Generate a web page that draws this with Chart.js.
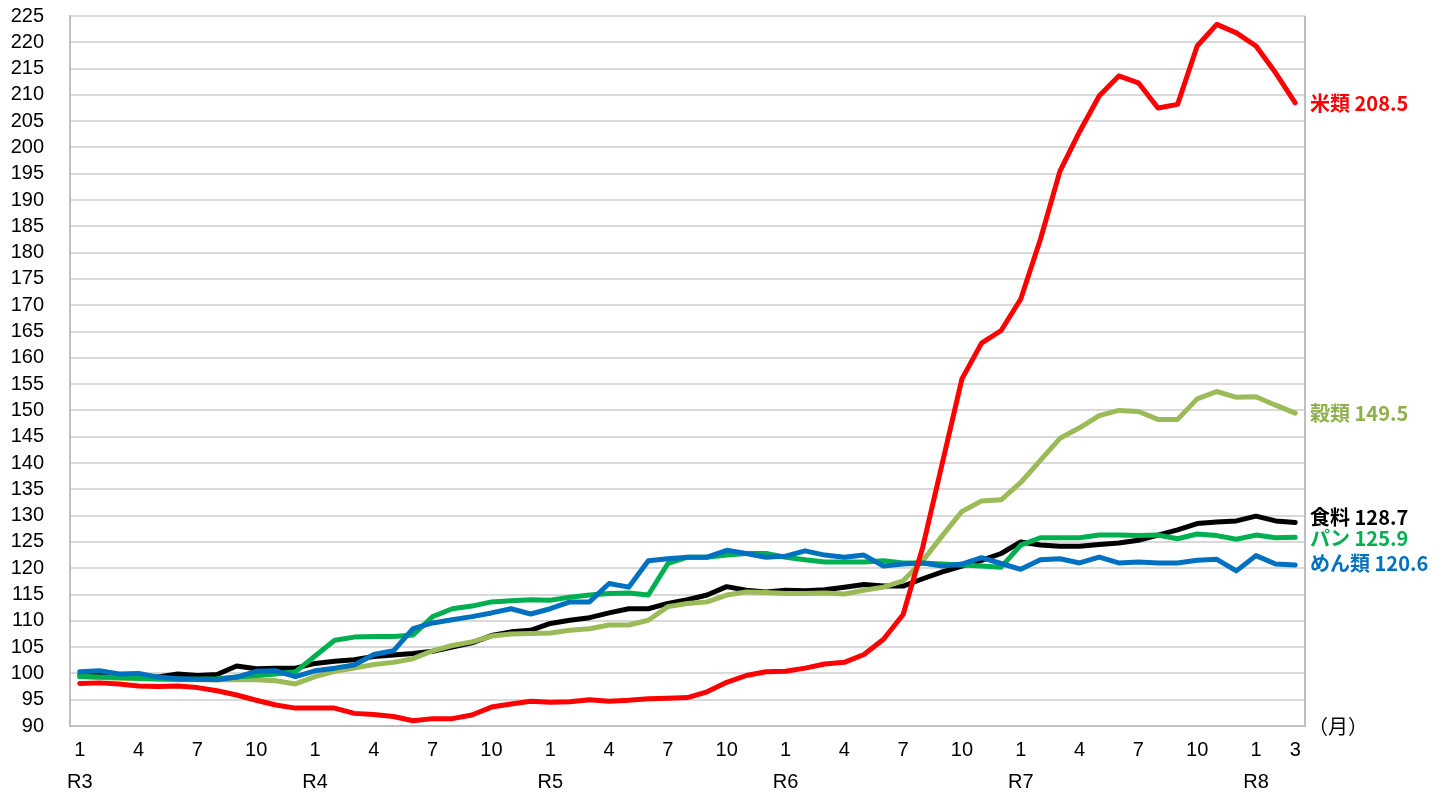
<!DOCTYPE html>
<html lang="ja">
<head>
<meta charset="utf-8">
<title>食料・穀類の消費者物価指数</title>
<script src="https://cdn.jsdelivr.net/npm/chart.js@4.4.1/dist/chart.umd.min.js"></script>
<style>
  html, body { margin: 0; padding: 0; background: #fff; }
  #wrap { position: relative; width: 1456px; height: 794px; }
</style>
</head>
<body>
<div id="wrap"><canvas id="cpi"></canvas></div>
<script>
"use strict";

// categories: era (Reiwa year) and months, Jan R3 .. Mar R8
const eras = ["R3", "R4", "R5", "R6", "R7", "R8"];
const lastEraMonths = 3;
const shownMonths = [1, 4, 7, 10];

// index values (monthly), one row per year
const rice = [
  98.1, 98.2, 98.0, 97.6, 97.5, 97.6, 97.3, 96.7, 95.9, 94.9, 94.0, 93.4,
  93.4, 93.4, 92.4, 92.2, 91.8, 91.0, 91.4, 91.4, 92.1, 93.6, 94.2, 94.7,
  94.5, 94.6, 95.0, 94.7, 94.9, 95.2, 95.3, 95.4, 96.5, 98.3, 99.6, 100.3,
  100.4, 101.0, 101.8, 102.1, 103.6, 106.5, 111.2, 124.0, 140.0, 156.0, 162.8, 165.2,
  171.2, 182.5, 195.5, 203.0, 209.8, 213.6, 212.3, 207.5, 208.2, 219.3, 223.4, 221.8,
  219.3, 214.2, 208.5
];
const cereals = [
  99.4, 99.2, 99.1, 99.0, 98.9, 98.8, 98.8, 98.8, 98.8, 98.8, 98.6, 98.0,
  99.4, 100.4, 101.0, 101.7, 102.1, 102.8, 104.3, 105.3, 106.0, 107.1, 107.5, 107.6,
  107.7, 108.2, 108.5, 109.2, 109.2, 110.1, 112.7, 113.3, 113.6, 114.9, 115.5, 115.4,
  115.2, 115.2, 115.3, 115.1, 115.8, 116.4, 117.6, 121.4, 126.2, 130.8, 132.8, 133.0,
  136.3, 140.5, 144.7, 146.7, 149.0, 150.0, 149.8, 148.3, 148.3, 152.2, 153.6, 152.5,
  152.6, 151.0, 149.5
];
const food = [
  99.7, 99.6, 99.5, 99.5, 99.3, 99.9, 99.6, 99.8, 101.4, 100.9, 101.0, 101.0,
  101.9, 102.3, 102.6, 103.2, 103.5, 103.8, 104.2, 105.0, 105.8, 107.2, 107.9, 108.2,
  109.5, 110.1, 110.6, 111.5, 112.3, 112.3, 113.3, 114.0, 114.9, 116.5, 115.8, 115.5,
  115.8, 115.7, 115.9, 116.4, 116.9, 116.6, 116.6, 118.0, 119.3, 120.4, 121.5, 122.8,
  125.0, 124.4, 124.2, 124.2, 124.5, 124.8, 125.3, 126.3, 127.3, 128.5, 128.8, 129.0,
  129.9, 129.0, 128.7
];
const bread = [
  99.4, 99.3, 99.2, 99.1, 99.0, 98.9, 98.9, 99.0, 99.3, 99.6, 99.9, 100.3,
  103.3, 106.3, 106.9, 107.0, 107.0, 107.3, 110.8, 112.3, 112.8, 113.6, 113.8, 114.0,
  113.9, 114.5, 114.9, 115.2, 115.3, 114.9, 120.9, 122.1, 122.1, 122.5, 122.8, 122.8,
  122.1, 121.6, 121.2, 121.2, 121.2, 121.4, 121.0, 121.0, 120.8, 120.6, 120.4, 120.2,
  124.4, 125.8, 125.8, 125.8, 126.3, 126.3, 126.2, 126.3, 125.6, 126.5, 126.2, 125.5,
  126.3, 125.8, 125.9
];
const noodles = [
  100.3, 100.5, 99.9, 100.0, 99.3, 99.0, 98.9, 98.8, 99.3, 100.4, 100.5, 99.4,
  100.5, 101.0, 101.6, 103.6, 104.3, 108.5, 109.6, 110.2, 110.8, 111.5, 112.3, 111.3,
  112.3, 113.6, 113.6, 117.1, 116.4, 121.4, 121.8, 122.1, 122.1, 123.4, 122.8, 122.1,
  122.3, 123.3, 122.5, 122.1, 122.5, 120.4, 120.8, 121.0, 120.4, 120.8, 122.0, 120.9,
  119.8, 121.6, 121.8, 121.0, 122.1, 121.0, 121.2, 121.0, 121.0, 121.5, 121.7, 119.5,
  122.4, 120.8, 120.6
];

const yMin = 90, yMax = 225, yStep = 5;

// build category labels
const labels = [], eraOf = [], monthOf = [];
eras.forEach((era, k) => {
  const n = k === eras.length - 1 ? lastEraMonths : 12;
  for (let m = 1; m <= n; m++) {
    labels.push(era + "-" + m);
    eraOf.push(era);
    monthOf.push(m);
  }
});

const JP = '"Noto Sans CJK JP", "Noto Sans", sans-serif';
Chart.defaults.font.family = '"Liberation Sans", Arial, sans-serif';
Chart.defaults.font.size = 20;
Chart.defaults.color = "#000";

// right plot border + series labels at the right end of each line
const endLabels = {
  id: "endLabels",
  beforeDatasetsDraw(chart) {
    const { ctx, chartArea } = chart;
    ctx.save();
    ctx.strokeStyle = "#bfbfbf";
    ctx.lineWidth = 2;
    ctx.beginPath();
    ctx.moveTo(chartArea.right, chartArea.top);
    ctx.lineTo(chartArea.right, chartArea.bottom);
    ctx.stroke();
    ctx.restore();
  },
  afterDatasetsDraw(chart) {
    const { ctx, chartArea } = chart;
    ctx.save();
    ctx.textBaseline = "middle";
    ctx.textAlign = "left";
    ctx.font = "bold 20px " + JP;
    chart.data.datasets.forEach((ds, i) => {
      const pts = chart.getDatasetMeta(i).data;
      const p = pts[pts.length - 1];
      const v = ds.data[ds.data.length - 1];
      ctx.fillStyle = ds.textColor || ds.borderColor;
      ctx.fillText(ds.label + " " + v.toFixed(1), chartArea.right + 5, p.y + (ds.textShift || 0));
    });
    ctx.font = "20px " + JP;
    ctx.fillStyle = "#000";
    ctx.fillText("（月）", chartArea.right + 3, chartArea.bottom);
    ctx.restore();
  }
};

function series(label, data, color, extra) {
  return Object.assign({
    label, data,
    borderColor: color,
    backgroundColor: color,
    borderWidth: 5,
    pointRadius: 0,
    tension: 0,
    fill: false,
    borderJoinStyle: "round",
    borderCapStyle: "round",
  }, extra || {});
}

new Chart(document.getElementById("cpi"), {
  type: "line",
  data: {
    labels,
    datasets: [
      series("米類", rice, "#ff0000", { textShift: 1 }),
      series("めん類", noodles, "#0070c0", { textShift: -2 }),
      series("パン", bread, "#00b050", { textShift: 1 }),
      series("穀類", cereals, "#9bbb59", { textColor: "#8eb04d" }),
      series("食料", food, "#000000", { textShift: -5 }),
    ],
  },
  options: {
    responsive: true,
    maintainAspectRatio: false,
    animation: false,
    layout: { padding: { top: 16, right: 151, left: 0, bottom: 0 } },
    plugins: { legend: { display: false }, tooltip: { enabled: false } },
    scales: {
      x: {
        type: "category",
        offset: true,
        grid: { display: false, drawTicks: false },
        border: { color: "#bfbfbf", width: 2 },
        ticks: {
          autoSkip: false,
          maxRotation: 0,
          padding: 8,
          font: { size: 20, lineHeight: 1.6 },
          callback: (val, idx) => {
            const m = monthOf[idx];
            if (!shownMonths.includes(m) && idx !== labels.length - 1) return "";
            return m === 1 ? [String(m), eraOf[idx]] : String(m);
          },
        },
        afterFit: (s) => { s.height = 68; },
      },
      y: {
        min: yMin,
        max: yMax,
        ticks: { stepSize: yStep, autoSkip: false, padding: 26, font: { size: 20 } },
        grid: { color: "#d9d9d9", lineWidth: 2, drawTicks: false },
        border: { color: "#bfbfbf", width: 2 },
        afterFit: (s) => {
          s.width = 70;
          s.paddingTop = 0;
          s.paddingBottom = 0;
        },
      },
    },
  },
  plugins: [endLabels],
});
</script>
</body>
</html>
